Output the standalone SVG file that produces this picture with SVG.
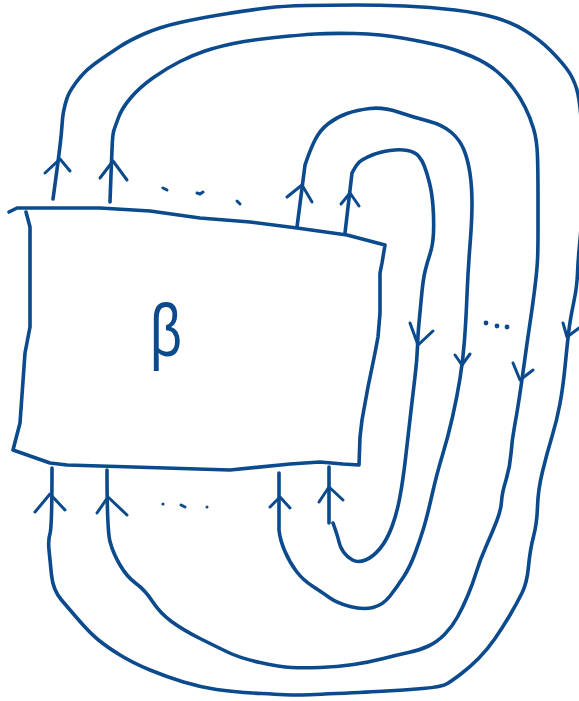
<svg xmlns="http://www.w3.org/2000/svg" width="579" height="701" viewBox="0 0 579 701">
<style>
.s{fill:none;stroke:#0b4a8c;stroke-width:3.6;stroke-linecap:round;stroke-linejoin:round}
.a{fill:none;stroke:#0b4a8c;stroke-width:3;stroke-linecap:round;stroke-linejoin:round}
.d{fill:#0b4a8c}
.lbl{font-family:"Liberation Sans",Arial,sans-serif;font-size:74px;fill:#0b4a8c}
</style>
<rect width="579" height="701" fill="#ffffff"/>
<g id="box-beta">
<path class="s" d="M9,212 L17,208 L100,208 L150,211 L200,218 L250,222 L297,228 L347,235 L385,245 L382,263 L380,273 L380,313 L378,337 L375,353 L368,387 L362,420 L360,437 L359,465 L343,464 L320,462 L290,464 L230,470 L133,467 L67,465 L50,463 L13,450 L20,423 L25,353 L30,327 L30,227 L26,212"/>
<text class="lbl" x="166" y="356" text-anchor="middle" transform="translate(166 0) scale(0.75 1) translate(-166 0)">β</text>
</g>
<g id="connectors">
<path id="strand-a" class="s" d="M53,199 Q57,170 59,154 Q61,138 61.5,131.5 Q62,125 62.5,119 Q63,113 65,105 Q67,97 69.5,92.5 Q72,88 76,82.5 Q80,77 85,72 Q90,67 100,60 Q110,53 120,46.5 Q130,40 145,33.5 Q160,27 180,22.5 Q200,18 225,14 Q250,10 266.5,8 Q283,6 306.5,5.5 Q330,5 355,5 Q380,5 405,6 Q430,7 455,10 Q480,13 496.5,18 Q513,23 526.5,31.5 Q540,40 550,50 Q560,60 566.5,68.5 Q573,77 576.5,88.5 Q580,100 581.5,125 Q583,150 582.5,185 Q582,220 580,240 Q578,260 577.5,273.5 Q577,287 573.5,303.5 Q570,320 568.5,333.5 Q567,347 565,367 Q563,387 560,403.5 Q557,420 552,436.5 Q547,453 542.5,471.5 Q538,490 537.5,506.5 Q537,523 533.5,536.5 Q530,550 528.5,566.5 Q527,583 522,593 Q517,603 510,615 Q503,627 495,638.5 Q487,650 478.5,658.5 Q470,667 461.5,673.5 Q453,680 447.5,683.5 Q442,687 422.5,688.5 Q403,690 386.5,691 Q370,692 336.5,693.5 Q303,695 296.5,695 Q290,695 261.5,693.5 Q233,692 216.5,689.5 Q200,687 183.5,682 Q167,677 150,670 Q133,663 120,655 Q107,647 98.5,640 Q90,633 80,621.5 Q70,610 61.5,600 Q53,590 51.5,575 Q50,560 49,550 Q48,540 50,533.5 Q52,527 52,468"/>
<path id="strand-b" class="s" d="M107,470 Q107,530 110,541.5 Q113,553 120,565 Q127,577 136,583.5 Q145,590 152.5,601.5 Q160,613 171.5,621.5 Q183,630 200,638.5 Q217,647 228.5,652.5 Q240,658 260,662.5 Q280,667 291.5,667.5 Q303,668 320,667.5 Q337,667 353.5,664.5 Q370,662 383.5,658.5 Q397,655 408.5,652.5 Q420,650 428.5,646 Q437,642 444.5,634.5 Q452,627 457.5,617 Q463,607 468,595 Q473,583 476.5,571.5 Q480,560 486,546.5 Q492,533 496.5,521.5 Q501,510 501.5,501.5 Q502,493 506,480 Q510,467 511,453.5 Q512,440 514.5,426.5 Q517,413 519.5,396.5 Q522,380 524.5,361.5 Q527,343 530,323 Q533,303 535,286.5 Q537,270 537.5,260 Q538,250 538,233.5 Q538,217 538,195 Q538,173 537.5,156.5 Q537,140 533.5,128.5 Q530,117 525,107 Q520,97 513.5,88.5 Q507,80 497,71.5 Q487,63 472,56.5 Q457,50 443.5,46.5 Q430,43 405,38.5 Q380,34 355,33.5 Q330,33 315,34 Q300,35 275,37.5 Q250,40 233.5,43.5 Q217,47 205,51 Q193,55 180,61.5 Q167,68 153.5,77.5 Q140,87 131,97.5 Q122,108 118.5,117.5 Q115,127 114,130 Q113,133 112.5,140 Q112,147 110,202"/>
<path id="strand-c" class="s" d="M297,227 L305,165 Q310,150 315,140 Q320,130 328.5,123.5 Q337,117 347,113.5 Q357,110 370,108.5 Q383,107 398,112 Q413,117 428,121 Q443,125 451.5,132.5 Q460,140 464,150 Q468,160 470,173.5 Q472,187 472,203.5 Q472,220 470,245 Q468,270 467,295 Q466,320 464.5,340 Q463,360 460,378.5 Q457,397 452.5,417 Q448,437 442.5,455 Q437,473 432,495 Q427,517 423.5,528.5 Q420,540 415,553.5 Q410,567 403.5,577 Q397,587 390,596 Q383,605 373,607.5 Q363,610 350,606.5 Q337,603 330,598 Q323,593 313,586.5 Q303,580 296.5,571.5 Q290,563 285,551.5 Q280,540 279,530 L279,473"/>
<path id="strand-d" class="s" d="M345,233 L352,173 Q357,163 362,160 Q367,157 373.5,154.5 Q380,152 390,150.5 Q400,149 407.5,150.5 Q415,152 418.5,156 Q422,160 424.5,166.5 Q427,173 429.5,183 Q432,193 433,206.5 Q434,220 433.5,232.5 Q433,245 430,254 Q427,263 425,271.5 Q423,280 421.5,296.5 Q420,313 419,323 Q418,333 417.5,346.5 Q417,360 415,376.5 Q413,393 410.5,415 Q408,437 405.5,458.5 Q403,480 400,496.5 Q397,513 392,526.5 Q387,540 380,548.5 Q373,557 365.5,560 Q358,563 352.5,560 Q347,557 343.5,552 Q340,547 339,542 Q338,537 333,523"/>
<path id="strand-d-in" class="s" d="M329,523 L329,467"/>
<path class="a" d="M45,173 L60,159 L70,171"/>
<path class="a" d="M100,178 L113,161 L127,180"/>
<path class="a" d="M287,197 L302,185 L312,202"/>
<path class="a" d="M341,204 L350,193 L359,206"/>
<path class="a" d="M410,323 L418,345 L433,331"/>
<path class="a" d="M455,355 L462,365 L470,354"/>
<path class="a" d="M513,363 L520,380 L533,370"/>
<path class="a" d="M563,323 L567,337 L579,328"/>
<path class="a" d="M35,512 L50,494 L65,510"/>
<path class="a" d="M97,513 L108,497 L127,515"/>
<path class="a" d="M270,507 L280,497 L290,508"/>
<path class="a" d="M319,502 L329,487 L343,500"/>
<path class="a" d="M163,188 L167,190"/>
<path class="a" d="M197,193 L200,194 L203,192"/>
<path class="a" d="M237,201 L240,204"/>
<circle class="d" cx="163" cy="504" r="1.6"/>
<path class="a" d="M181,505 L185,507" stroke-width="2.4"/>
<circle class="d" cx="207" cy="507" r="1.5"/>
<circle class="d" cx="486" cy="323" r="2.4"/>
<circle class="d" cx="497" cy="326" r="2.4"/>
<circle class="d" cx="507" cy="327" r="2.4"/>
</g>
</svg>
